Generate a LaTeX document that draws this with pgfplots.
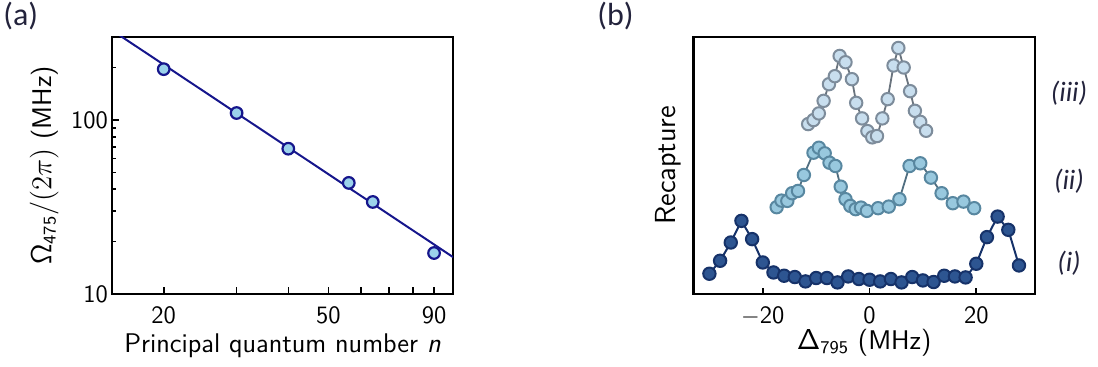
\documentclass[border=0pt]{standalone}
\usepackage[no-math]{fontspec}
\usepackage{pgfplots}
\pgfplotsset{compat=1.18}
\newfontfamily\carlito{Carlito}
\definecolor{navy}{RGB}{22,22,140}
\definecolor{ptfill}{RGB}{155,210,235}
\definecolor{ifill}{RGB}{45,85,145}
\definecolor{iedge}{RGB}{22,50,105}
\definecolor{iifill}{RGB}{152,200,222}
\definecolor{iiedge}{RGB}{88,135,160}
\definecolor{iiline}{RGB}{80,110,128}
\definecolor{iiifill}{RGB}{200,222,238}
\definecolor{iiiedge}{RGB}{125,140,155}
\definecolor{iiiline}{RGB}{105,115,125}
\definecolor{lbl}{RGB}{35,35,60}
\begin{document}
\begin{tikzpicture}
\useasboundingbox (0pt,0pt) rectangle (549pt,183.5pt);
\pgfplotsset{
  every axis/.append style={
    scale only axis,
    anchor=south west,
    axis line style={line width=1.3pt},
    tick align=inside,
    tick pos=left,
    tick style={black,line width=0.8pt},
    ticklabel style={font=\sffamily\fontsize{12.5}{14}\selectfont},
    label style={font=\sffamily\fontsize{13.5}{16}\selectfont},
  }
}
\begin{axis}[
  at={(56pt,36.5pt)}, width=170.5pt, height=128.5pt,
  xmode=log, ymode=log,
  xmin=15, xmax=100, ymin=10, ymax=300,
  xtick={20,30,40,50,60,70,80,90},
  xticklabels={20,,,50,,,,90},
  ytick={10,100}, yticklabels={10,100},
  minor ytick={20,30,40,50,60,70,80,90,200,300},
  major tick length=3.5pt, minor tick length=1.8pt,
  xticklabel style={yshift=-3pt},
  yticklabel style={xshift=1.5pt},
  xlabel={Principal quantum number \textit{n}},
  ylabel={$\mathsf{\Omega}_{\mathsf{475}}/(2\pi)$ (MHz)},
  xlabel style={at={(axis description cs:0.5,-0.2)},anchor=center},
  ylabel style={at={(axis description cs:-0.199,0.5)},anchor=center},
]
\addplot[navy, line width=1pt] coordinates {(15,328) (100,16.3)};
\addplot[only marks, mark=*, mark size=2.9pt, mark options={fill=ptfill, draw=navy, line width=1.1pt}]
  coordinates {(20,196) (30,109.7) (40,68.4) (56,43.5) (64,33.8) (90,17.2)};
\end{axis}
\begin{axis}[
  at={(346.7pt,36.5pt)}, width=170.8pt, height=128.5pt,
  xmin=-33, xmax=31, ymin=0, ymax=257.6,
  xtick={-20,0,20}, xticklabels={$-$20,0,20},
  ytick=\empty,
  major tick length=3pt,
  xticklabel style={yshift=-3pt},
  xlabel={$\mathsf{\Delta}_{\mathsf{795}}$ (MHz)},
  ylabel={Recapture},
  xlabel style={at={(axis description cs:0.5,-0.19)},anchor=center},
  ylabel style={at={(axis description cs:-0.074,0.5)},anchor=center,font=\sffamily\fontsize{14.5}{16}\selectfont},
]
\addplot[iiiline, line width=0.9pt, mark=*, mark size=3.1pt, mark options={fill=iiifill, draw=iiiedge, line width=1pt}]
  coordinates {(-11.5,170.3) (-10.5,174.3) (-9.5,181) (-8.6,193.6) (-7.6,210.3) (-6.5,218.3) (-5.6,238.6) (-4.5,232.3) (-3.3,215.3) (-2.5,191.6) (-1.4,176) (-0.4,163.3) (0.5,157) (1.4,158.3) (2.4,176) (3.4,195.3) (4.5,229) (5.4,246.6) (6.4,227) (7.6,203.3) (8.5,183.6) (9.5,172.6) (10.6,163.6)};
\addplot[iiline, line width=0.9pt, mark=*, mark size=3.1pt, mark options={fill=iifill, draw=iiedge, line width=1pt}]
  coordinates {(-17.4,87) (-16.5,93.6) (-15.4,93.3) (-14.5,101) (-13.4,103.3) (-12.3,119.3) (-10.5,141.6) (-9.5,146.6) (-8.4,141) (-7.5,131.6) (-6.4,128.3) (-5.4,107.6) (-4.5,95) (-3.6,88.3) (-2.6,85) (-1.6,86.6) (-0.5,83.3) (1.6,86) (3.6,87.6) (5.6,95) (7.5,128.3) (9.5,131) (11.5,116.6) (13.5,101) (15.6,91) (17.6,92.6) (19.6,86)};
\addplot[iedge, line width=1pt, mark=*, mark size=3.1pt, mark options={fill=ifill, draw=iedge, line width=1pt}]
  coordinates {(-30,20.3) (-28,33.3) (-26,51.6) (-24,73.3) (-22,55) (-20,31.6) (-18,21.6) (-16,18.3) (-14,17) (-12,12.6) (-10,16) (-8,16) (-6,11.6) (-4,17.6) (-2,15) (0,14.3) (2,12.6) (4,15) (6,11.6) (8,17) (10,13.6) (12,12) (14,18.3) (16,17.6) (18,16.6) (20,30.3) (22,57) (24,77.6) (26,64.3) (28,28.6)};
\end{axis}
\node[anchor=west,text=lbl,inner sep=0pt] at (1.5pt,175.5pt) {\carlito\fontsize{16}{18}\selectfont (a)};
\node[anchor=west,text=lbl,inner sep=0pt] at (298.5pt,175.5pt) {\carlito\fontsize{16}{18}\selectfont (b)};
\node[text=lbl,inner sep=0pt] at (534.5pt,137pt) {\carlito\itshape\fontsize{14}{16}\selectfont (iii)};
\node[text=lbl,inner sep=0pt] at (534.5pt,93pt) {\carlito\itshape\fontsize{14}{16}\selectfont (ii)};
\node[text=lbl,inner sep=0pt] at (534.5pt,52pt) {\carlito\itshape\fontsize{14}{16}\selectfont (i)};
\end{tikzpicture}
\end{document}
